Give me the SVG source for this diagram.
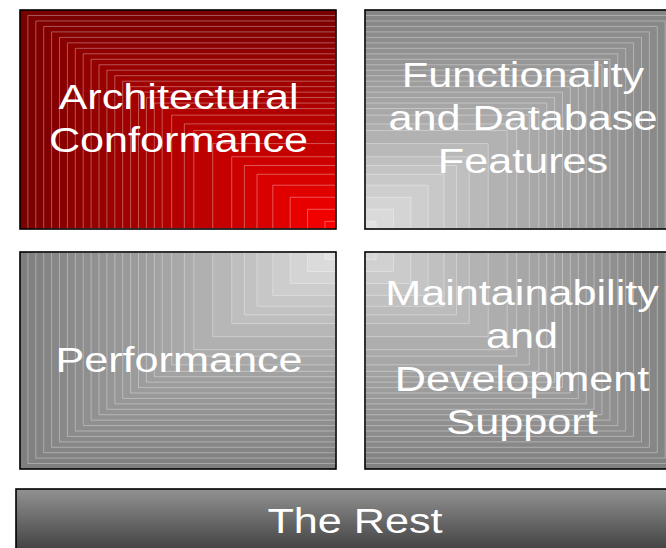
<svg xmlns="http://www.w3.org/2000/svg" xmlns:xlink="http://www.w3.org/1999/xlink" width="666" height="548" viewBox="0 0 666 548">
<style>
.bands rect { fill: currentColor; stroke: #ffffff; stroke-opacity: 0.42; stroke-width: 0.8; vector-effect: non-scaling-stroke; }
.border { fill: none; stroke: #000000; stroke-width: 1.6; }
.lbl { font-family: "Liberation Sans", Arial, sans-serif; font-size: 36px; fill: #ffffff; text-anchor: middle; }
</style>
<defs>
<g id="bands" class="bands">
<rect x="-0.975" y="-0.975" width="0.975" height="0.975" fill-opacity="0.025"/>
<rect x="-0.95" y="-0.95" width="0.95" height="0.95" fill-opacity="0.0256"/>
<rect x="-0.925" y="-0.925" width="0.925" height="0.925" fill-opacity="0.0263"/>
<rect x="-0.9" y="-0.9" width="0.9" height="0.9" fill-opacity="0.027"/>
<rect x="-0.875" y="-0.875" width="0.875" height="0.875" fill-opacity="0.0278"/>
<rect x="-0.85" y="-0.85" width="0.85" height="0.85" fill-opacity="0.0286"/>
<rect x="-0.825" y="-0.825" width="0.825" height="0.825" fill-opacity="0.0294"/>
<rect x="-0.8" y="-0.8" width="0.8" height="0.8" fill-opacity="0.0303"/>
<rect x="-0.775" y="-0.775" width="0.775" height="0.775" fill-opacity="0.0313"/>
<rect x="-0.75" y="-0.75" width="0.75" height="0.75" fill-opacity="0.0323"/>
<rect x="-0.725" y="-0.725" width="0.725" height="0.725" fill-opacity="0.0333"/>
<rect x="-0.7" y="-0.7" width="0.7" height="0.7" fill-opacity="0.0345"/>
<rect x="-0.675" y="-0.675" width="0.675" height="0.675" fill-opacity="0.0357"/>
<rect x="-0.65" y="-0.65" width="0.65" height="0.65" fill-opacity="0.037"/>
<rect x="-0.625" y="-0.625" width="0.625" height="0.625" fill-opacity="0.0385"/>
<rect x="-0.6" y="-0.6" width="0.6" height="0.6" fill-opacity="0.04"/>
<rect x="-0.575" y="-0.575" width="0.575" height="0.575" fill-opacity="0.0417"/>
<rect x="-0.55" y="-0.55" width="0.55" height="0.55" fill-opacity="0.0435"/>
<rect x="-0.52" y="-0.52" width="0.52" height="0.52" fill-opacity="0.0545"/>
<rect x="-0.48" y="-0.48" width="0.48" height="0.48" fill-opacity="0.0769"/>
<rect x="-0.45" y="-0.45" width="0.45" height="0.45" fill-opacity="0.0625"/>
<rect x="-0.39" y="-0.39" width="0.39" height="0.39" fill-opacity="0.1333"/>
<rect x="-0.33" y="-0.33" width="0.33" height="0.33" fill-opacity="0.1538"/>
<rect x="-0.29" y="-0.29" width="0.29" height="0.29" fill-opacity="0.1212"/>
<rect x="-0.25" y="-0.25" width="0.25" height="0.25" fill-opacity="0.1379"/>
<rect x="-0.2" y="-0.2" width="0.2" height="0.2" fill-opacity="0.2"/>
<rect x="-0.145" y="-0.145" width="0.145" height="0.145" fill-opacity="0.275"/>
<rect x="-0.09" y="-0.09" width="0.09" height="0.09" fill-opacity="0.3793"/>
<rect x="-0.035" y="-0.035" width="0.035" height="0.035" fill-opacity="0.6111"/>
</g>
<linearGradient id="restGrad" x1="0" y1="0" x2="0" y2="1">
<stop offset="0" stop-color="#929292"/>
<stop offset="1" stop-color="#363636"/>
</linearGradient>
</defs>

<g id="node-architectural">
<rect x="20" y="10" width="316" height="219" fill="#7a0000"/>
<use xlink:href="#bands" href="#bands" transform="translate(336,229) scale(316,219)" style="color:#ff0000"/>
<rect class="border" x="20" y="10" width="316" height="219"/>
<text class="lbl" transform="translate(178.5,109) scale(1.2,1)">Architectural</text>
<text class="lbl" transform="translate(178.5,152) scale(1.2,1)">Conformance</text>
</g>

<g id="node-functionality">
<rect x="365" y="10" width="316" height="219" fill="#858585"/>
<use xlink:href="#bands" href="#bands" transform="translate(365,229) scale(-316,219)" style="color:#e6e6e6"/>
<rect class="border" x="365" y="10" width="316" height="219"/>
<text class="lbl" transform="translate(523,87) scale(1.2,1)">Functionality</text>
<text class="lbl" transform="translate(523,130) scale(1.2,1)">and Database</text>
<text class="lbl" transform="translate(523,173) scale(1.2,1)">Features</text>
</g>

<g id="node-performance">
<rect x="20" y="252" width="316" height="217" fill="#7f7f7f"/>
<use xlink:href="#bands" href="#bands" transform="translate(336,252) scale(316,-217)" style="color:#e8e8e8"/>
<rect class="border" x="20" y="252" width="316" height="217"/>
<text class="lbl" transform="translate(179,372) scale(1.2,1)">Performance</text>
</g>

<g id="node-maintainability">
<rect x="365" y="252" width="316" height="217" fill="#808080"/>
<use xlink:href="#bands" href="#bands" transform="translate(365,252) scale(-316,-217)" style="color:#dadada"/>
<rect class="border" x="365" y="252" width="316" height="217"/>
<text class="lbl" transform="translate(522,305) scale(1.2,1)">Maintainability</text>
<text class="lbl" transform="translate(522,348) scale(1.2,1)">and</text>
<text class="lbl" transform="translate(522,391) scale(1.2,1)">Development</text>
<text class="lbl" transform="translate(522,434) scale(1.2,1)">Support</text>
</g>

<g id="node-the-rest">
<rect x="16" y="489" width="680" height="70" fill="url(#restGrad)"/>
<rect class="border" x="16" y="489" width="680" height="70"/>
<text class="lbl" transform="translate(355,533) scale(1.2,1)">The Rest</text>
</g>
</svg>
